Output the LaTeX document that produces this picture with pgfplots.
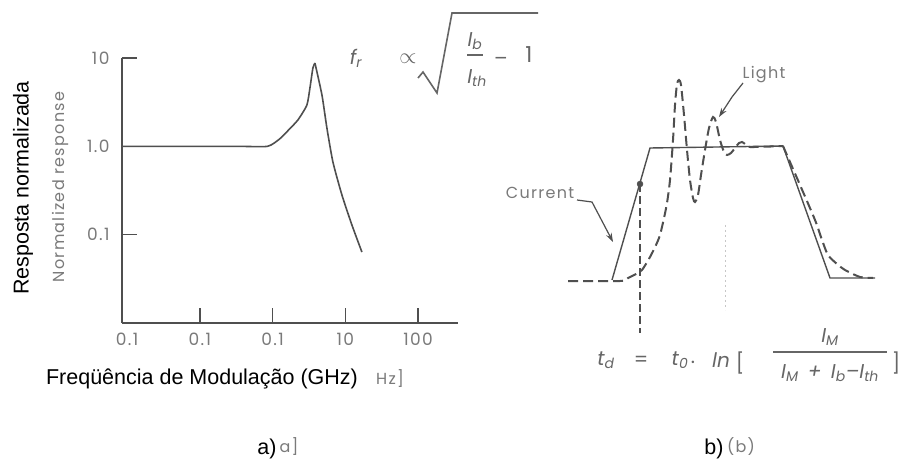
\documentclass[border=0pt]{standalone}
\usepackage{fix-cm}
\usepackage{fontspec}
\setmainfont{Liberation Sans}
\newfontfamily\scanfont[LetterSpace=8]{Poppins}
\newfontfamily\formfont{Poppins}
\usepackage{pgfplots}
\pgfplotsset{compat=1.18}
\usetikzlibrary{arrows.meta}

\definecolor{ink}{HTML}{4F4F4F}
\definecolor{scan}{HTML}{7A7A7A}
\definecolor{form}{HTML}{666666}

\newcommand\bigfont{\fontsize{21.5}{25}\selectfont}
\newcommand\scanlabel{\scanfont\fontsize{16}{19}\selectfont}
\newcommand\fx{\formfont\itshape\fontsize{20}{23}\selectfont}
\newcommand\fu{\formfont\fontsize{20}{23}\selectfont}
\newcommand\sub[1]{\textsubscript{#1}}

\begin{document}
\begin{tikzpicture}
\useasboundingbox (0,0) rectangle (909pt,462pt);
\fill[white] (0,0) rectangle (909pt,462pt);

% (a) normalized modulation response, log-log
\begin{axis}[
  at={(122pt,139pt)}, anchor=south west,
  scale only axis, width=336pt, height=265pt,
  xmode=log, ymode=log,
  xmin=0.0085, xmax=354, ymin=0.01, ymax=10,
  axis x line=bottom, axis y line=left,
  axis line style={-, ink, line width=1.6pt},
  tick align=inside, major tick length=15pt,
  tick style={ink, line width=1.4pt},
  minor tick style={draw=none},
  xtick={0.1,1,10,100}, xticklabels={0.1,0.1,10,100},
  extra x ticks={0.01}, extra x tick labels={0.1},
  extra x tick style={major tick length=0pt},
  ytick={0.1,1,10}, yticklabels={0.1,1.0,10},
  tick label style={font=\scanfont\fontsize{17}{20}\selectfont, text=scan},
  xticklabel style={yshift=-6pt},
  yticklabel style={xshift=-9pt},
  clip=false,
]
\addplot[ink, line width=1.6pt, smooth, tension=0.35] coordinates {
  (0.0085,1) (0.3,1) (0.85,1) (1.26,1.22) (1.62,1.5) (2.23,1.99)
  (2.96,2.93) (3.26,4.57) (3.58,7.7) (3.82,8.77)
};
\addplot[ink, line width=1.6pt, smooth, tension=0.35] coordinates {
  (3.82,8.77) (4.77,3.81) (5.58,1.61) (6.75,0.664) (8.98,0.281)
  (12.3,0.129) (16.9,0.0635)
};
\end{axis}

% (b) current and light pulses; page coordinates, y downwards
\begin{axis}[
  at={(0pt,0pt)}, anchor=south west,
  scale only axis, width=909pt, height=462pt,
  xmin=0, xmax=909, ymin=0, ymax=462, y dir=reverse,
  hide axis, clip=false,
]
% light output (dashed)
\addplot[ink, line width=2pt, dash pattern=on 10pt off 5pt, smooth, tension=0.45] coordinates {
  (568,281) (620,281) (628,278) (636,274) (642,270) (650,257) (656,245)
  (660,235) (664,218) (667,203) (670,180) (673,140) (675,105) (677,84)
  (679,80) (681,85) (684,115) (687,150) (690,180) (693,198) (695,202)
  (698,195) (701,175) (705,150) (709,128) (713,117) (716,122) (720,140)
  (724,152) (727,155) (731,153) (735,148) (739,143) (742,142) (745,144)
  (750,147) (783,146)
};
\addplot[ink, line width=2pt, dash pattern=on 10pt off 5pt, smooth, tension=0.45] coordinates {
  (783,146) (800,185) (815,220) (822,240) (828,255) (837,264) (845,270)
  (860,277) (873,278)
};
% drive current (solid)
\addplot[ink, line width=1.4pt] coordinates {
  (612,280) (650,148) (783,146) (830,278) (875,278)
};
% delay marker
\addplot[ink, line width=1.6pt, dash pattern=on 8pt off 4pt] coordinates {(640,184) (640,333)};
\addplot[only marks, mark=*, mark size=3pt, ink] coordinates {(640,184)};
\addplot[black!22, line width=1pt, dash pattern=on 2pt off 3pt] coordinates {(725,225) (725,310)};

% arrows to the traces
\draw[ink, line width=1.2pt, -{Stealth[length=9pt,width=6pt]}] (577,200) -- (592,202) -- (613,242);
\draw[ink, line width=1.2pt, -{Stealth[length=9pt,width=6pt]}] (743,83) -- (732,97) -- (719,117);

\node[font=\scanlabel, text=scan] at (540,193) {Current};
\node[font=\scanlabel, text=scan] at (764,75) {Light};

% labels of panel (a)
\node[font=\bigfont, rotate=90] at (23,188) {Resposta normalizada};
\node[font=\scanlabel, text=scan, rotate=90] at (60,187) {Normalized response};
\node[font=\bigfont] at (202,379) {Freqüência de Modulação (GHz)};
\node[font=\scanlabel, text=scan] at (390,379) {Hz]};

% captions
\node[font=\bigfont] at (267,449) {a)};
\node[font=\scanlabel, text=scan] at (289,447) {a]};
\node[font=\bigfont] at (714,449) {b)};
\node[font=\scanlabel, text=scan] at (741,447) {(b)};

% resonance frequency relation
\begin{scope}[every node/.style={text=form, inner sep=0pt}]
\node[font=\fx] at (356,58) {f\sub{r}};
\node[font=\fontsize{22}{24}\selectfont] at (408,59) {$\propto$};
\draw[form, line width=1.6pt] (418,78) -- (423,72) -- (437,93) -- (452,13) -- (538,13);
\node[font=\fx] at (475,41) {I\sub{b}};
\draw[form, line width=1.3pt] (467,55) -- (483,55);
\node[font=\fx] at (477,78) {I\sub{th}};
\node[font=\fu] at (501,61) {–};
\node[font=\fontsize{22}{24}\selectfont\formfont] at (529,55) {1};

% turn-on delay
\node[font=\fx] at (606,360) {t\sub{d}};
\node[font=\fu] at (641,361) {=};
\node[font=\fx] at (680,360) {t\sub{0}};
\node[font=\fu] at (693,362) {.};
\node[font=\fx] at (721,360) {ln};
\node[font=\fu] at (740,363) {[};
\node[font=\fx] at (830,337) {I\sub{M}};
\draw[form, line width=1.3pt] (773,352) -- (887,352);
\node[font=\fx] at (830,373) {I\sub{M} \,+\, I\sub{b}–I\sub{th}};
\node[font=\fu] at (896,363) {]};
\end{scope}
\end{axis}
\end{tikzpicture}
\end{document}
